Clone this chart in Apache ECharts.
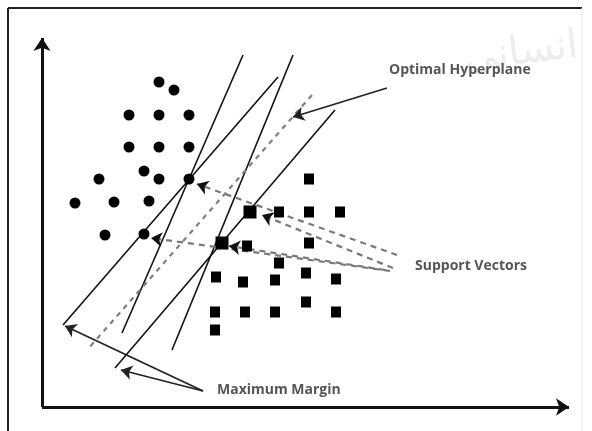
<!DOCTYPE html>
<html>
<head>
<meta charset="utf-8">
<script src="https://cdn.jsdelivr.net/npm/echarts@6/dist/echarts.min.js"></script>
<style>
html,body{margin:0;padding:0;background:#fff;}
#main{width:592px;height:431px;}
</style>
</head>
<body>
<div id="main"></div>
<script>
// class 1 (circles)
var circles=[[159,82],[174,90],[129,115],[159,115],[189,115],[129,147],[159,147],[189,147],
    [144,171],[99,179],[159,179],[189,179],[75,203],[114,202],[149,201],[105,235],[144,234]];
// class 2 (squares)
var squares=[[309,179],[279,212],[309,212],[340,212],[247,246],[309,243],[279,263],
    [216,277],[243,282],[275,280],[306,273],[336,279],[306,302],[215,312],[245,312],[275,312],[336,312],[215,330]];
var bigSquares=[[250,212],[222,243]];
// margin lines (black) and the optimal hyperplane (grey dashed)
var marginLines=[[[243,55],[122,333]],[[278,77],[63,325]],[[293,55],[172,350]],[[335,110],[115,368]]];
var optimal=[[[312,95],[87,350]]];
// arrows to support vectors
var svArrows=[[[397,255],[197,184]],[[393,268],[262,215]],[[390,271],[151,238]],[[385,270],[229,246]]];
// annotation arrows
var noteArrows=[[[387,88],[293,117]],[[203,391],[65,326]],[[203,391],[121,370]]];
var axesArrows=[[[42,407],[42,38]],[[42,407],[569,407]]];
var labels=[{name:'Optimal Hyperplane',value:[389,70]},{name:'Support Vectors',value:[415,266]},{name:'Maximum Margin',value:[217,390]}];

var myChart=echarts.init(document.getElementById('main'));

function toLines(arr){
    var out=[];
    for(var i=0;i<arr.length;i++){
        out.push({coords:arr[i]});
    }
    return out;
}

var option={
    animation:false,
    grid:{left:0,right:0,top:0,bottom:0},
    xAxis:{type:'value',min:0,max:592,show:false},
    yAxis:{type:'value',min:0,max:431,inverse:true,show:false},
    graphic:[
        {type:'line',shape:{x1:8,y1:8,x2:582,y2:8},style:{stroke:'#222',lineWidth:2}},
        {type:'line',shape:{x1:8,y1:8,x2:8,y2:431},style:{stroke:'#222',lineWidth:2}},
        {type:'line',shape:{x1:582,y1:8,x2:582,y2:431},style:{stroke:'#eee',lineWidth:1}},
        {type:'text',left:462,top:22,rotation:0.12,style:{text:'م انسانی',font:'40px "DejaVu Sans"',fill:'#ededed'},z:-1}
    ],
    series:[
        {
            type:'lines',coordinateSystem:'cartesian2d',
            data:toLines(marginLines),
            lineStyle:{color:'#111',width:1.6,type:'solid',opacity:1},
            symbol:'none'
        },
        {
            type:'lines',coordinateSystem:'cartesian2d',
            data:toLines(optimal),
            lineStyle:{color:'#808080',width:2.2,type:[5,5],opacity:1},
            symbol:'none'
        },
        {
            type:'lines',coordinateSystem:'cartesian2d',
            data:toLines(svArrows),
            lineStyle:{color:'#7a7a7a',width:2.2,type:[6,5],opacity:1},
            symbol:'none'
        },
        {
            // black arrow heads on the support vector arrows
            type:'lines',coordinateSystem:'cartesian2d',
            data:toLines(svArrows),
            lineStyle:{color:'#111',width:0,opacity:1},
            symbol:['none','arrow'],symbolSize:[0,11]
        },
        {
            type:'lines',coordinateSystem:'cartesian2d',
            data:toLines(noteArrows),
            lineStyle:{color:'#222',width:1.8,opacity:1},
            symbol:['none','arrow'],symbolSize:11
        },
        {
            type:'lines',coordinateSystem:'cartesian2d',
            data:toLines(axesArrows),
            lineStyle:{color:'#111',width:3,opacity:1},
            symbol:['none','arrow'],symbolSize:13
        },
        {
            type:'scatter',data:circles,symbol:'circle',symbolSize:11,
            itemStyle:{color:'#000',opacity:1},z:5
        },
        {
            type:'scatter',data:squares,symbol:'rect',symbolSize:[10,11],
            itemStyle:{color:'#000',opacity:1},z:5
        },
        {
            type:'scatter',data:bigSquares,symbol:'rect',symbolSize:[13,13],
            itemStyle:{color:'#000',opacity:1},z:5
        },
        {
            type:'scatter',data:labels,symbolSize:0,z:6,
            label:{show:true,position:'right',distance:0,formatter:'{b}',
                color:'#2a2a2a',fontFamily:'Open Sans',fontWeight:'bold',fontSize:14}
        }
    ]
};

myChart.setOption(option);
</script>
</body>
</html>
